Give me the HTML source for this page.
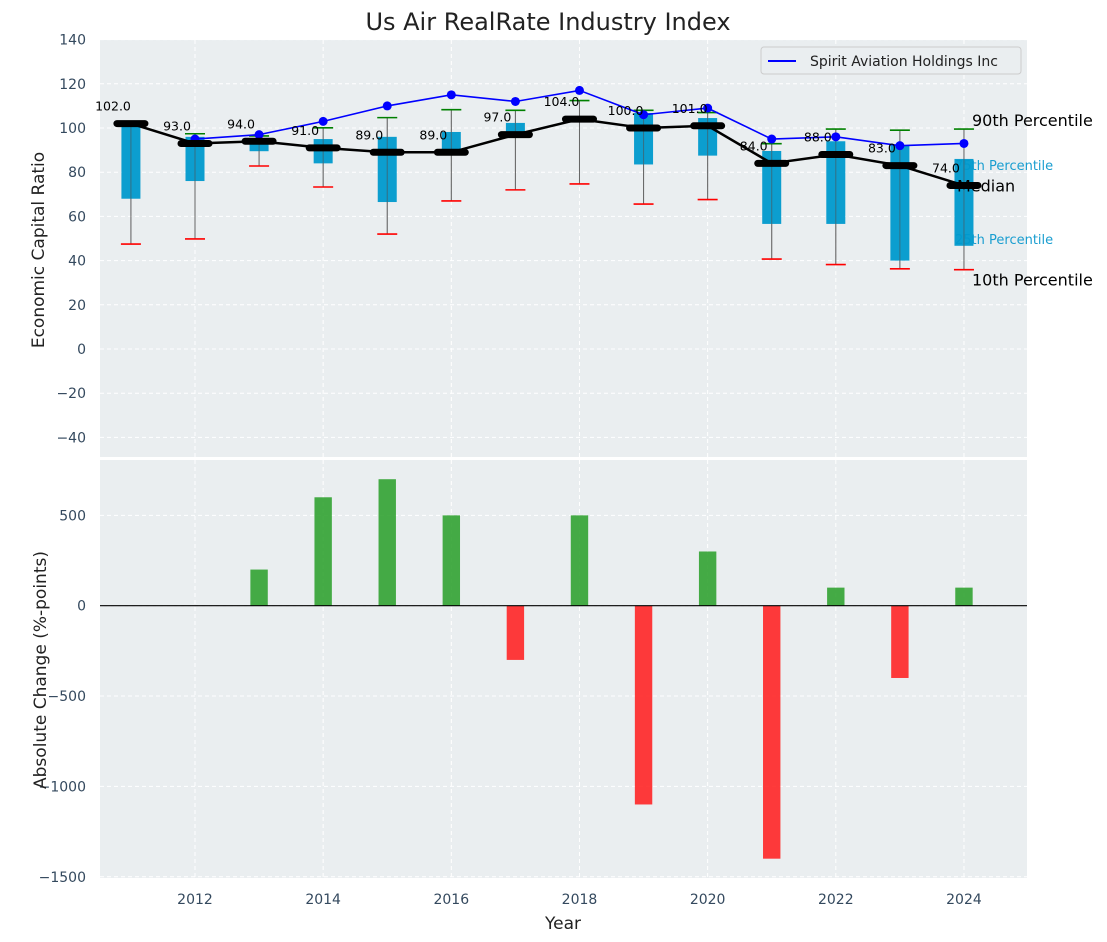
<!DOCTYPE html>
<html><head><meta charset="utf-8"><style>
html,body{margin:0;padding:0;background:#fff;}
svg{display:block;font-family:"DejaVu Sans","Liberation Sans",sans-serif;}
</style></head><body>
<svg id="chart" width="1107" height="942" xmlns="http://www.w3.org/2000/svg">
<text x="548" y="30" text-anchor="middle" font-size="24" fill="#222">Us Air RealRate Industry Index</text>
<rect x="100" y="40" width="927" height="417" fill="#eaeef0"/>
<rect x="100" y="460" width="927" height="418" fill="#eaeef0"/>
<g id="grid"></g>
<g id="top"></g>
<g id="bottom"></g>
<g id="axes"></g>
<text transform="translate(44,250) rotate(-90)" text-anchor="middle" font-size="17" fill="#222">Economic Capital Ratio</text>
<text transform="translate(46,670) rotate(-90)" text-anchor="middle" font-size="17" fill="#222">Absolute Change (%-points)</text>
<text x="563" y="929" text-anchor="middle" font-size="17" fill="#222">Year</text>
<g>
<rect x="761" y="47" width="260" height="27" fill="#eaeef0" stroke="#ccc" rx="3"/>
<line x1="768" y1="61" x2="796" y2="61" stroke="#0000ff" stroke-width="2"/>
<text x="810" y="66" font-size="14" fill="#222">Spirit Aviation Holdings Inc</text>
</g>
</svg>
<script>
const years=[2011,2012,2013,2014,2015,2016,2017,2018,2019,2020,2021,2022,2023,2024];
const medians=[102,93,94,91,89,89,97,104,100,101,84,88,83,74];
const p25=[68,76,89.5,84,66.5,89,97,103,83.5,87.5,56.6,56.6,40,46.7];
const p75=[101,96,93.5,95,96,98.2,102.3,105,106.8,104.5,89.6,94,92.3,86];
const p10=[47.5,49.8,82.8,73.3,52,67,72,74.7,65.6,67.6,40.7,38.2,36.3,35.9];
const p90=[102,97.4,96.4,100.1,104.7,108.3,108,112.4,108,107,92.9,99.5,99,99.5];
const spiritYears=[2012,2013,2014,2015,2016,2017,2018,2019,2020,2021,2022,2023,2024];
const spirit=[95,97,103,110,115,112,117,106,109,95,96,92,93];
const changeYears=[2013,2014,2015,2016,2017,2018,2019,2020,2021,2022,2023,2024];
const changes=[200,600,700,500,-300,500,-1100,300,-1400,100,-400,100];
const topTicks=[-40,-20,0,20,40,60,80,100,120,140];
const botTicks=[-1500,-1000,-500,0,500];
const xTicks=[2012,2014,2016,2018,2020,2022,2024];

const NS="http://www.w3.org/2000/svg";
const X=y=>195+(y-2012)*64.08;
const YT=v=>349-v*2.21;
const YB=v=>605.7-v*0.1807;
function mk(parent,tag,attrs,txt){const e=document.createElementNS(NS,tag);for(const k in attrs)e.setAttribute(k,attrs[k]);if(txt!==undefined)e.textContent=txt;document.getElementById(parent).appendChild(e);return e;}

topTicks.forEach(t=>{const e=mk('grid','line',{x1:100,x2:1027,y1:YT(t),y2:YT(t),stroke:'#fff','stroke-dasharray':'4,3','stroke-width':1});


const l=mk('axes','text',{x:86,y:YT(t)+5,'text-anchor':'end','font-size':14,fill:'#34495e'},t<0?'\u2212'+(-t):String(t));

});
botTicks.forEach(t=>{const e=mk('grid','line',{x1:100,x2:1027,y1:YB(t),y2:YB(t),stroke:'#fff','stroke-dasharray':'4,3','stroke-width':1});


const l=mk('axes','text',{x:86,y:YB(t)+5,'text-anchor':'end','font-size':14,fill:'#34495e'},t<0?'\u2212'+(-t):String(t));

});
xTicks.forEach(t=>{[[40,457],[460,878]].forEach(r=>{const e=mk('grid','line',{x1:X(t),x2:X(t),y1:r[0],y2:r[1],stroke:'#fff','stroke-dasharray':'4,3'});

});
const l=mk('axes','text',{x:X(t),y:904,'text-anchor':'middle','font-size':14,fill:'#34495e'},String(t));

});

const last=years.length-1;
[['75th Percentile',p75[last],'#1a9ed0',13,955,6],['25th Percentile',p25[last],'#1a9ed0',13,955,-7]].forEach(a=>{
const t=mk('top','text',{x:a[4],y:YT(a[1])+a[5]+5,'font-size':a[3],fill:a[2]},a[0]);

});

years.forEach((y,i)=>{const x=X(y);
const w=mk('top','line',{x1:x,x2:x,y1:YT(p90[i]),y2:YT(p10[i]),stroke:'#808080','stroke-width':1});


const b=mk('top','rect',{x:x-9.5,y:YT(p75[i]),width:19,height:YT(p25[i])-YT(p75[i]),fill:'#0099cc',opacity:0.95});


const w2=mk('top','line',{x1:x,x2:x,y1:YT(p90[i]),y2:YT(p10[i]),stroke:'#555','stroke-width':1,opacity:0.6});


const g=mk('top','line',{x1:x-10,x2:x+10,y1:YT(p90[i]),y2:YT(p90[i]),stroke:'green','stroke-width':1.6});


const r=mk('top','line',{x1:x-10,x2:x+10,y1:YT(p10[i]),y2:YT(p10[i]),stroke:'red','stroke-width':1.6});

});

[['90th Percentile',p90[last],972,-9],['Median',medians[last],957,0],['10th Percentile',p10[last],972,10]].forEach(a=>{
const t=mk('top','text',{x:a[2],y:YT(a[1])+a[3]+6,'font-size':16,fill:'#000'},a[0]);

});

const sp=mk('top','polyline',{points:spiritYears.map((y,i)=>X(y)+','+YT(spirit[i])).join(' '),fill:'none',stroke:'#0000ff','stroke-width':1.6});


spiritYears.forEach((y,i)=>{const c=mk('top','circle',{cx:X(y),cy:YT(spirit[i]),r:4.5,fill:'#0000ff'});

});

const md=mk('top','polyline',{points:years.map((y,i)=>X(y)+','+YT(medians[i])).join(' '),fill:'none',stroke:'#000','stroke-width':2.5});


years.forEach((y,i)=>{const x=X(y);
const m=mk('top','line',{x1:x-14,x2:x+14,y1:YT(medians[i]),y2:YT(medians[i]),stroke:'#000','stroke-width':7,'stroke-linecap':'round'});


const t=mk('top','text',{x:Math.max(x-18,113),y:YT(medians[i])-13,'text-anchor':'middle','font-size':12.5,fill:'#000'},medians[i].toFixed(1));

});

changeYears.forEach((y,i)=>{const v=changes[i];const x=X(y);
const b=mk('bottom','rect',{x:x-8.7,y:Math.min(YB(v),YB(0)),width:17.4,height:Math.abs(YB(v)-YB(0)),fill:v>=0?'#2ca02c':'#ff2020',opacity:0.88});

});
const z=mk('bottom','line',{x1:100,x2:1027,y1:YB(0),y2:YB(0),stroke:'#000','stroke-width':1.2});


</script>
</body></html>
